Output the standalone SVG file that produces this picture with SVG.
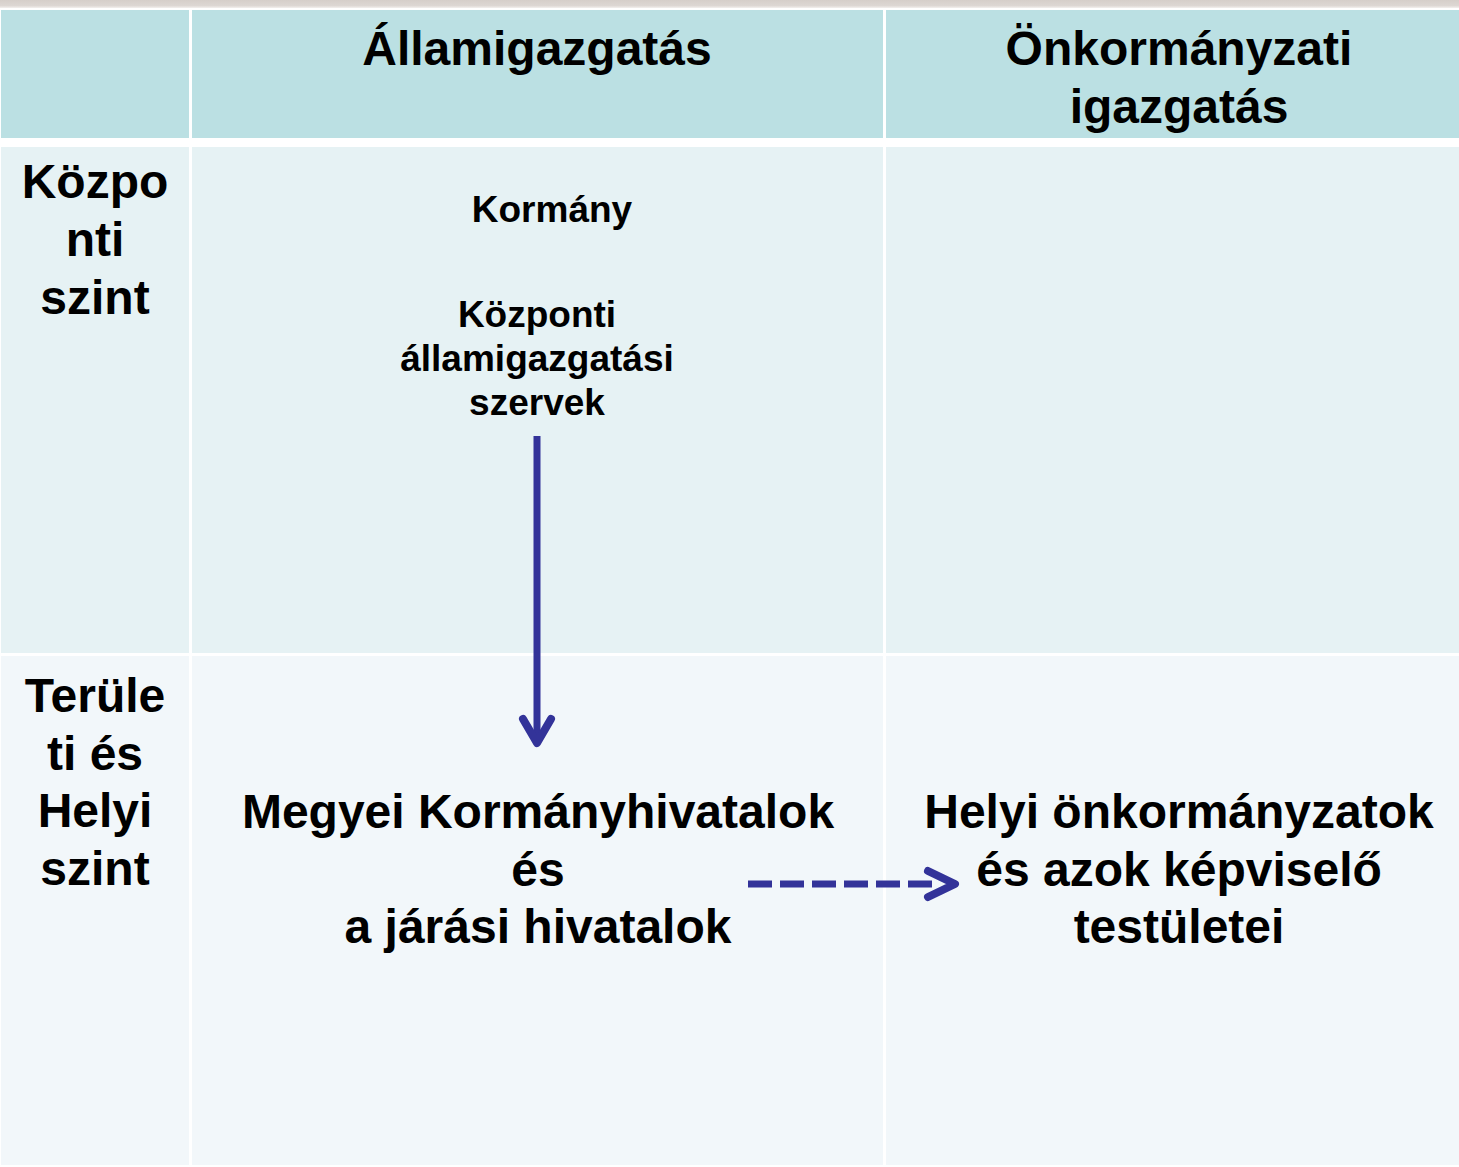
<svg xmlns="http://www.w3.org/2000/svg" width="1459" height="1167" viewBox="0 0 1459 1167">
<defs>
<linearGradient id="topg" x1="0" y1="0" x2="0" y2="1">
<stop offset="0" stop-color="#D6CFCA"/>
<stop offset="0.7" stop-color="#DDD7D3"/>
<stop offset="1" stop-color="#F4F0EE"/>
</linearGradient>
<style>
.hdr{fill:#BBE0E3}
.r2{fill:#E6F2F4}
.r3{fill:#F2F7FA}
text{font-family:"Liberation Sans",Arial,sans-serif;font-weight:bold;fill:#000;text-anchor:middle}
.big{font-size:48px}
.small{font-size:37px}
.conn{stroke:#333399;stroke-width:7;fill:none}
.head{stroke:#333399;stroke-width:8;fill:none;stroke-linecap:round;stroke-linejoin:round}
</style>
</defs>
<rect x="0" y="0" width="1459" height="1167" fill="#FFFFFF"/>
<rect x="0" y="0" width="1459" height="8" fill="url(#topg)"/>

<g id="header-row">
<rect class="hdr" x="1" y="10" width="188" height="128"/>
<rect class="hdr" x="192" y="10" width="691" height="128"/>
<rect class="hdr" x="886" y="10" width="573" height="128"/>
</g>
<g id="row-kozponti">
<rect class="r2" x="1" y="147" width="188" height="506"/>
<rect class="r2" x="192" y="147" width="691" height="506"/>
<rect class="r2" x="886" y="147" width="573" height="506"/>
</g>
<g id="row-teruleti">
<rect class="r3" x="1" y="656" width="188" height="509"/>
<rect class="r3" x="192" y="656" width="691" height="509"/>
<rect class="r3" x="886" y="656" width="573" height="509"/>
</g>

<g id="col-allamigazgatas">
<text class="big" x="537" y="65">Államigazgatás</text>
</g>
<g id="col-onkormanyzati">
<text class="big" x="1179" y="65">Önkormányzati</text>
<text class="big" x="1179" y="123">igazgatás</text>
</g>
<g id="label-kozponti">
<text class="big" x="95" y="198">Közpo</text>
<text class="big" x="95" y="256">nti</text>
<text class="big" x="95" y="314">szint</text>
</g>
<g id="label-teruleti">
<text class="big" x="95" y="712">Terüle</text>
<text class="big" x="95" y="770">ti és</text>
<text class="big" x="95" y="827">Helyi</text>
<text class="big" x="95" y="885">szint</text>
</g>
<g id="node-kormany">
<text class="small" x="552" y="222">Kormány</text>
</g>
<g id="node-kozponti-szervek">
<text class="small" x="537" y="327">Központi</text>
<text class="small" x="537" y="371">államigazgatási</text>
<text class="small" x="537" y="415">szervek</text>
</g>
<g id="node-megyei">
<text class="big" x="538" y="828">Megyei Kormányhivatalok</text>
<text class="big" x="538" y="886">és</text>
<text class="big" x="538" y="943">a járási hivatalok</text>
</g>
<g id="node-helyi">
<text class="big" x="1179" y="828">Helyi önkormányzatok</text>
<text class="big" x="1179" y="886">és azok képviselő</text>
<text class="big" x="1179" y="943">testületei</text>
</g>

<g id="connectors">
<line class="conn" x1="537" y1="436" x2="537" y2="742"/>
<polyline class="head" points="523,719 537,743 551,719"/>
<line class="conn" x1="748" y1="884" x2="934" y2="884" stroke-width="8" stroke-dasharray="24 8"/>
<polyline class="head" points="928,871 955,884 928,897"/>
</g>
</svg>
